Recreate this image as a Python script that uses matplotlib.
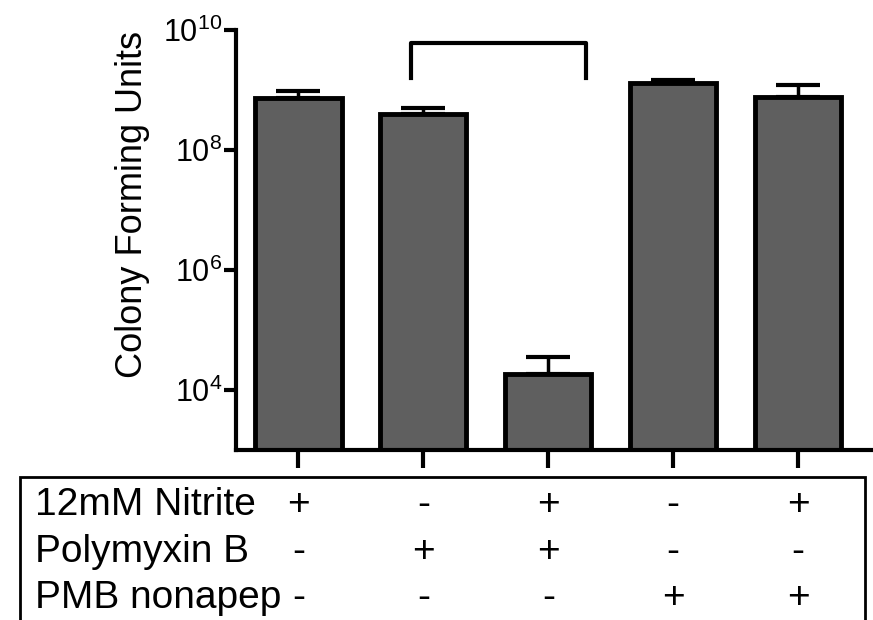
import matplotlib
matplotlib.use("Agg")
import matplotlib.pyplot as plt
import matplotlib.transforms as mtransforms
from matplotlib.patches import Rectangle
import numpy as np

plt.rcParams['font.family'] = ['Liberation Sans', 'DejaVu Sans']
plt.rcParams['mathtext.fontset'] = 'custom'
plt.rcParams['mathtext.rm'] = 'Liberation Sans'
plt.rcParams['mathtext.it'] = 'Liberation Sans'
plt.rcParams['mathtext.default'] = 'regular'

# Data
conditions = ["12mM Nitrite", "Polymyxin B", "PMB nonapep"]
nitrite = ["+", "-", "+", "-", "+"]
polymyxin = ["-", "+", "+", "-", "-"]
nonapep = ["-", "-", "-", "+", "+"]
cfu_mean = [7.4e8, 4.0e8, 1.85e4, 1.3e9, 7.6e8]
cfu_err = [2.2e8, 1.0e8, 1.65e4, 0.17e9, 4.4e8]
yticks = [1e4, 1e6, 1e8, 1e10]
ytick_labels = ["$10^{4}$", "$10^{6}$", "$10^{8}$", "$10^{10}$"]
bracket_x = [0.9, 2.3]
bracket_y = [1.6e9, 6.0e9]

fig = plt.figure(figsize=(8.73, 6.2), dpi=100)
ax = fig.add_axes([236/873, 1-450/620, 1-236/873, (450-30)/620])

x = np.arange(len(cfu_mean))
ax.bar(x, cfu_mean, width=0.69, color='#5f5f5f', edgecolor='black', linewidth=3.5, zorder=2)
ax.errorbar(x, cfu_mean, yerr=[np.zeros(len(cfu_err)), cfu_err], fmt='none',
            ecolor='black', elinewidth=2.5, capsize=16, capthick=3, zorder=1)

ax.set_yscale('log')
ax.set_ylim(1e3, 1e10)
ax.set_xlim(-0.5, 4.6)
ax.set_yticks(yticks)
ax.set_yticklabels(ytick_labels, fontsize=22)
ax.yaxis.set_minor_locator(matplotlib.ticker.NullLocator())
ax.set_xticks(x)
ax.set_xticklabels([])
ax.tick_params(axis='y', length=9, width=3, pad=1)
ax.tick_params(axis='x', length=13, width=3)
for s in ['top', 'right']:
    ax.spines[s].set_visible(False)
for s in ['left', 'bottom']:
    ax.spines[s].set_linewidth(3)
ax.set_ylabel("Colony Forming Units", fontsize=26)
ax.yaxis.set_label_coords(-(236-150)/637, 0.5 + (240-205)/420)

# significance bracket
ax.plot([bracket_x[0], bracket_x[0], bracket_x[1], bracket_x[1]],
        [bracket_y[0], bracket_y[1], bracket_y[1], bracket_y[0]],
        color='black', linewidth=3, clip_on=False)

# condition table
fig.patches.append(Rectangle((20/873, 1-630/620), (865-20)/873, (630-477)/620,
                             transform=fig.transFigure, fill=False,
                             edgecolor='black', linewidth=2))
trans = mtransforms.blended_transform_factory(ax.transData, fig.transFigure)
rows_y = [1-515/620, 1-562/620, 1-608/620]
for label, signs, yy in zip(conditions, [nitrite, polymyxin, nonapep], rows_y):
    fig.text(35/873, yy, label, fontsize=28, va='baseline', ha='left')
    for xi, sgn in zip(x, signs):
        ax.text(xi, yy, sgn, transform=trans, fontsize=28, va='baseline', ha='center')

fig.savefig("out.png", dpi=100)
